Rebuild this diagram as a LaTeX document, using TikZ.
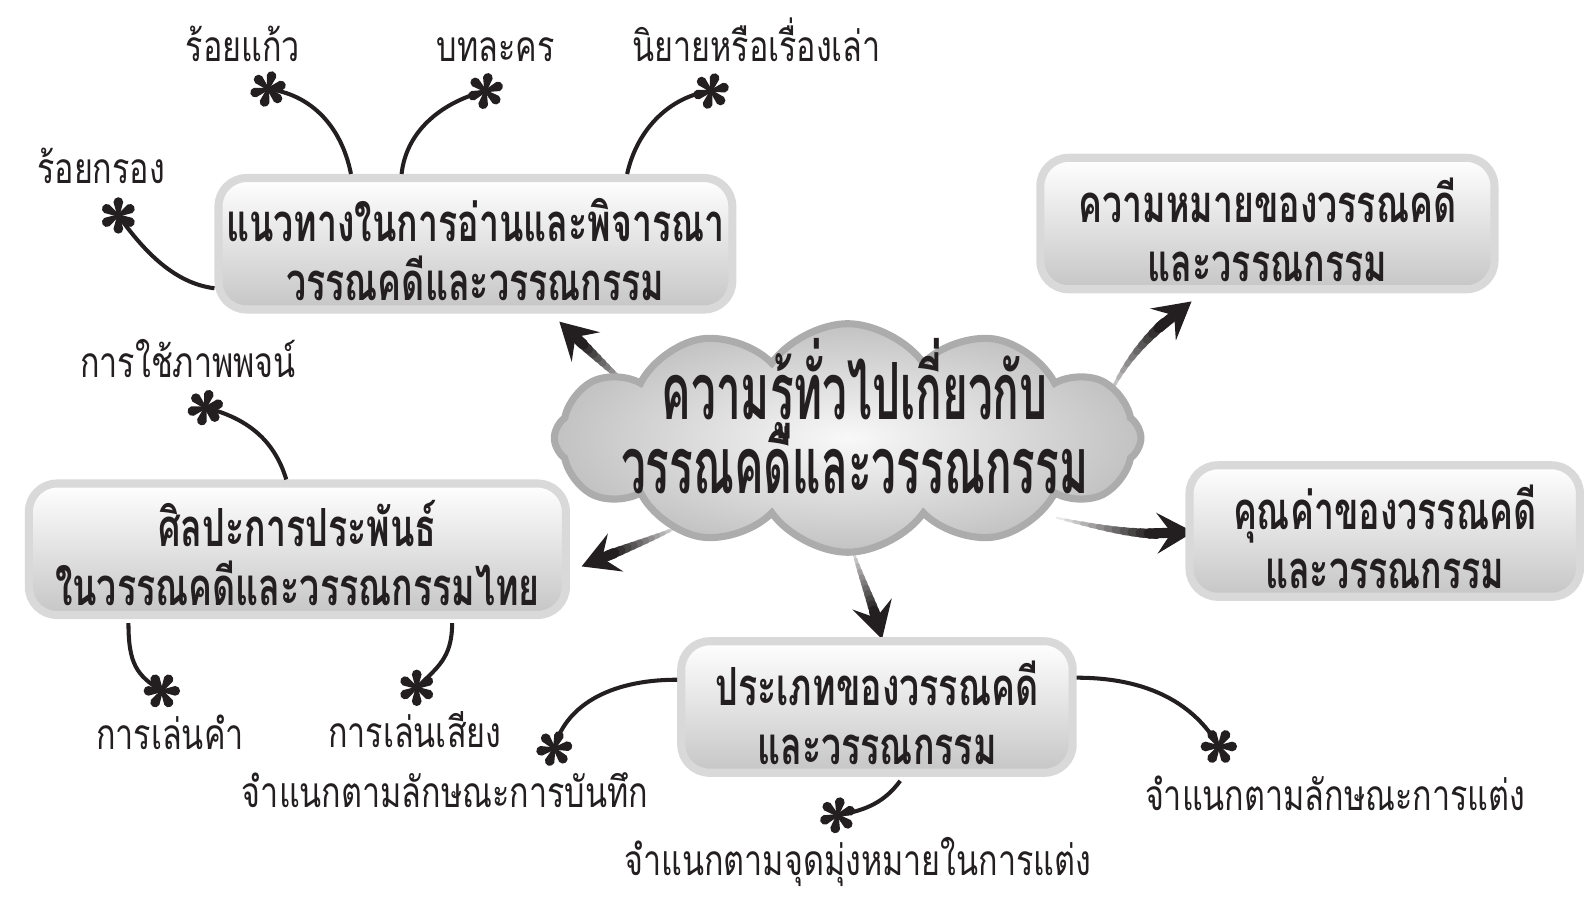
\documentclass[tikz,border=0pt]{standalone}
\usepackage{fontspec}
\usetikzlibrary{shapes.symbols,arrows.meta,calc}
\newfontfamily\lblfont{Loma}[Script=Thai,FakeStretch=0.76]
\newfontfamily\boxfont{Loma}[Script=Thai,FakeStretch=0.68]
\newfontfamily\cldfont{Loma}[Script=Thai,FakeStretch=0.56]
\definecolor{inkc}{HTML}{231F20}
\setlength{\lineskiplimit}{-100pt}
\newcommand\shiftln[2]{\raisebox{#1}[\height][\depth]{#2}}
\tikzset{
  boxst/.style={rectangle, rounded corners=14pt, draw=gray!30, line width=4pt,
    top color=white, bottom color=gray!45, minimum height=65pt, align=center,
    text=inkc, font=\boxfont\bfseries\fontsize{26}{29}\selectfont, inner sep=2pt},
  cloudst/.style={cloud, cloud puffs=12, cloud puff arc=110, cloud ignores aspect,
    draw=gray!65, line width=3.5pt, inner color=gray!5, outer color=gray!48,
    minimum width=290pt, minimum height=113pt, inner sep=0pt},
  cloudtxt/.style={align=center, text=inkc,
    font=\cldfont\bfseries\fontsize{39}{33}\selectfont, inner sep=0pt},
  lbl/.style={text=inkc, font=\lblfont\fontsize{21}{23}\selectfont, anchor=base, inner sep=0pt},
  conn/.style={draw=inkc, line width=2pt},
  ast/.pic={
    \foreach \a in {0,60,...,300}{
      \fill[inkc,rotate=\a] (0pt,-0.6pt) -- (6.6pt,-2.4pt) -- (6.6pt,2.4pt) -- (0pt,0.6pt) -- cycle
        (6.6pt,0pt) circle[radius=2.4pt];
    }
  }
}
\newcommand\gradarr[4]{%
  \foreach \i in {0,...,16}{\pgfmathsetmacro\tpos{\i/16}%
    \path (#1) .. controls (#2) and (#3) .. (#4) coordinate[pos=\tpos] (g\i);}%
  \foreach \i in {0,...,11}{\pgfmathtruncatemacro\jj{\i+1}%
    \pgfmathsetmacro\shv{10+90*\i/11}%
    \pgfmathsetmacro\arrlw{1+4*\i/11}%
    \draw[line width=\arrlw pt, line cap=round, draw=inkc!\shv] (g\i) -- (g\jj);}%
  \draw[line width=5pt, draw=inkc, fill=inkc, -{Stealth[length=18pt,width=20pt,inset=7pt]}] (g11) -- (g16);%
}
\begin{document}
\begin{tikzpicture}[x=0.5pt,y=-0.5pt]
\useasboundingbox (0,0) rectangle (1568,889);

% thick gradient arrows (behind cloud)
\coordinate (a1s) at (628,388); \coordinate (a1a) at (605,368); \coordinate (a1b) at (578,342); \coordinate (a1e) at (553,318);
\coordinate (a2s) at (1095,395); \coordinate (a2a) at (1112,355); \coordinate (a2b) at (1140,325); \coordinate (a2e) at (1178,298);
\coordinate (a3s) at (1045,512); \coordinate (a3a) at (1090,522); \coordinate (a3b) at (1130,532); \coordinate (a3e) at (1180,526);
\coordinate (a4s) at (672,520); \coordinate (a4a) at (645,533); \coordinate (a4b) at (610,545); \coordinate (a4e) at (575,560);
\coordinate (a5s) at (842,540); \coordinate (a5a) at (852,575); \coordinate (a5b) at (865,600); \coordinate (a5e) at (872,632);
\gradarr{a1s}{a1a}{a1b}{a1e}
\gradarr{a2s}{a2a}{a2b}{a2e}
\gradarr{a3s}{a3a}{a3b}{a3e}
\gradarr{a4s}{a4a}{a4b}{a4e}
\gradarr{a5s}{a5a}{a5b}{a5e}

% central cloud
\node[cloudst] (cloud) at (838,433) {};
\node[cloudtxt] (ctext) at (845,412) {\shiftln{2pt}{ความรู้ทั่วไปเกี่ยวกับ}\\\shiftln{-1.5pt}{วรรณคดีและวรรณกรรม}};

% boxes
\node[boxst, minimum width=254pt] (B1) at (470,241) {\shiftln{-3pt}{แนวทางในการอ่านและพิจารณา}\\\shiftln{-3pt}{วรรณคดีและวรรณกรรม}};
\node[boxst, minimum width=224.5pt] (B2) at (1253,221) {\shiftln{-3pt}{ความหมายของวรรณคดี}\\\shiftln{-3pt}{และวรรณกรรม}};
\node[boxst, minimum width=193pt] (B3) at (1369,525) {\shiftln{-3pt}{คุณค่าของวรรณคดี}\\\shiftln{-3pt}{และวรรณกรรม}};
\node[boxst, minimum width=265.5pt] (B4) at (294,543) {\shiftln{-2pt}{ศิลปะการประพันธ์}\\\shiftln{-2pt}{ในวรรณคดีและวรรณกรรมไทย}};
\node[boxst, minimum width=193.5pt] (B5) at (867,699) {\shiftln{-3pt}{ประเภทของวรรณคดี}\\\shiftln{-3pt}{และวรรณกรรม}};

% asterisk points
\coordinate (s1) at (265,88);
\coordinate (s2) at (480,90);
\coordinate (s3) at (703,90);
\coordinate (s4) at (117,213);
\coordinate (s5) at (203,403);
\coordinate (s6) at (160,683);
\coordinate (s7) at (412,680);
\coordinate (s8) at (548,740);
\coordinate (s9) at (828,806);
\coordinate (s10) at (1205,738);

% connectors
\draw[conn] ($(B1.north)+(-123,0)$) .. controls +(-10,-50) and +(40,5) .. (s1);
\draw[conn] ($(B1.north)+(-73,0)$) .. controls +(5,-45) and +(-40,10) .. (s2);
\draw[conn] ($(B1.north)+(150,0)$) .. controls +(10,-45) and +(-40,5) .. (s3);
\draw[conn] ($(B1.west)+(0,44)$) .. controls +(-40,-5) and +(25,35) .. (s4);
\draw[conn] ($(B4.north)+(-11,0)$) .. controls +(-12,-40) and +(40,10) .. (s5);
\draw[conn] ($(B4.south)+(-167,4)$) .. controls +(0,40) and +(-25,-15) .. (s6);
\draw[conn] ($(B4.south)+(153,4)$) .. controls +(0,35) and +(20,-20) .. (s7);
\draw[conn] ($(B5.west)+(0,-27)$) .. controls +(-70,0) and +(10,-40) .. (s8);
\draw[conn] ($(B5.south)+(23,4)$) .. controls +(-15,20) and +(30,-5) .. (s9);
\draw[conn] ($(B5.east)+(0,-29)$) .. controls +(80,0) and +(-20,-35) .. (s10);

\pic[rotate=15] at (s1) {ast};
\pic[rotate=20] at (s2) {ast};
\pic[rotate=15] at (s3) {ast};
\pic[rotate=30] at (s4) {ast};
\pic[rotate=15] at (s5) {ast};
\pic[rotate=0] at (s6) {ast};
\pic[rotate=30] at (s7) {ast};
\pic[rotate=10] at (s8) {ast};
\pic[rotate=20] at (s9) {ast};
\pic[rotate=0] at (s10) {ast};

% labels
\node[lbl] (L1) at (240,61) {ร้อยแก้ว};
\node[lbl] (L2) at (490,61) {บทละคร};
\node[lbl] (L3) at (748,61) {นิยายหรือเรื่องเล่า};
\node[lbl] (L4) at (100,181) {ร้อยกรอง};
\node[lbl] (L5) at (186,373) {การใช้ภาพพจน์};
\node[lbl] (L6) at (168,741) {การเล่นคำ};
\node[lbl] (L7) at (410,739) {การเล่นเสียง};
\node[lbl] (L8) at (440,798) {จำแนกตามลักษณะการบันทึก};
\node[lbl] (L9) at (848,866) {จำแนกตามจุดมุ่งหมายในการแต่ง};
\node[lbl] (L10) at (1320,801) {จำแนกตามลักษณะการแต่ง};
\end{tikzpicture}
\end{document}
